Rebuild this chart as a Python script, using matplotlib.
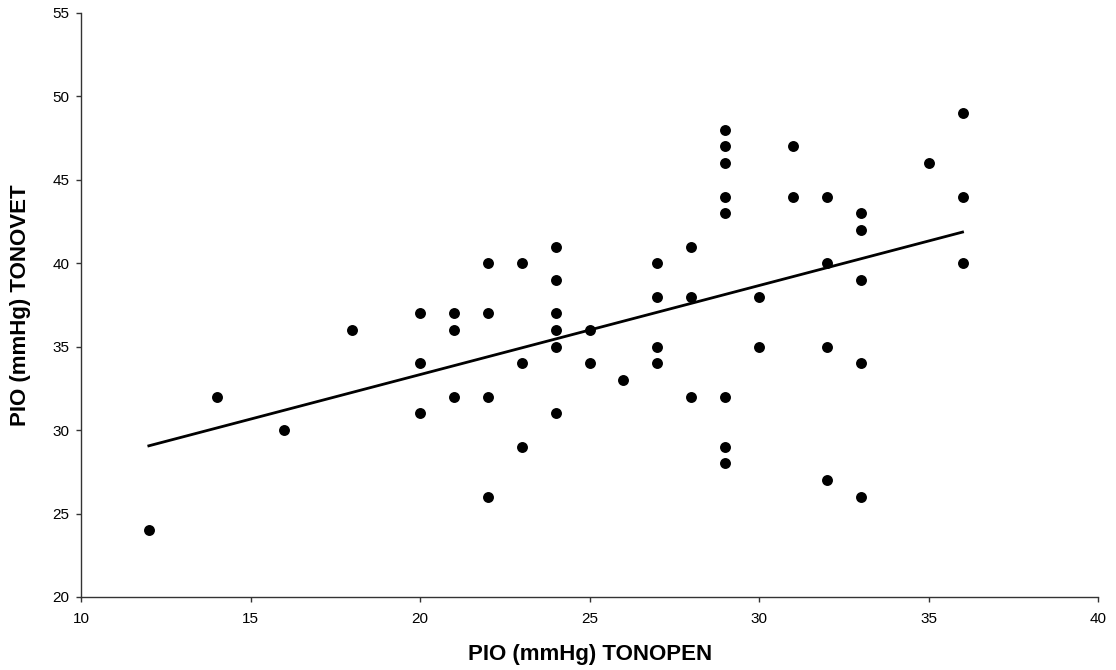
import numpy as np
import matplotlib
matplotlib.use("Agg")
import matplotlib.pyplot as plt

plt.rcParams["font.family"] = ["Liberation Sans", "DejaVu Sans"]

# ── Data ──────────────────────────────────────────────────────────────────────
tonopen = [12, 14, 16, 18,
           20, 20, 20, 21, 21, 21,
           22, 22, 22, 22, 23, 23, 23,
           24, 24, 24, 24, 24, 24, 25, 25, 26,
           27, 27, 27, 27, 28, 28, 28,
           29, 29, 29, 29, 29, 29, 29, 29,
           30, 30, 31, 31, 32, 32, 32, 32,
           33, 33, 33, 33, 33, 35, 36, 36, 36]
tonovet = [24, 32, 30, 36,
           37, 34, 31, 37, 36, 32,
           40, 37, 32, 26, 40, 34, 29,
           41, 39, 37, 36, 35, 31, 36, 34, 33,
           40, 38, 35, 34, 41, 38, 32,
           48, 47, 46, 44, 43, 32, 29, 28,
           38, 35, 47, 44, 44, 40, 35, 27,
           43, 42, 39, 34, 26, 46, 49, 44, 40]

x = np.array(tonopen, dtype=float)
y = np.array(tonovet, dtype=float)
slope, intercept = np.polyfit(x, y, 1)   # linear trend line

fig = plt.figure(figsize=(11.16, 6.7), dpi=100)
ax = fig.add_axes([0.0726, 0.109, 0.9114, 0.8716])

ax.scatter(x, y, s=62, color="black", zorder=3, linewidths=0)
xl = np.array([x.min(), x.max()])
ax.plot(xl, slope * xl + intercept, color="black", lw=2.0, zorder=2)

ax.set_xlim(10, 40)
ax.set_ylim(20, 55)
ax.set_xticks(range(10, 41, 5))
ax.set_yticks(range(20, 56, 5))
ax.tick_params(direction="out", length=3.5, width=1, labelsize=11, color="#333333")
ax.tick_params(axis="x", pad=7)
ax.tick_params(axis="y", pad=5)
ax.spines[["top", "right"]].set_visible(False)
for s in ("left", "bottom"):
    ax.spines[s].set_color("#333333")
    ax.spines[s].set_linewidth(1)

ax.set_xlabel("PIO (mmHg) TONOPEN", fontsize=16, fontweight="bold", labelpad=13)
ax.set_ylabel("PIO (mmHg) TONOVET", fontsize=16, fontweight="bold", labelpad=15)

fig.savefig("out.png", dpi=100)
